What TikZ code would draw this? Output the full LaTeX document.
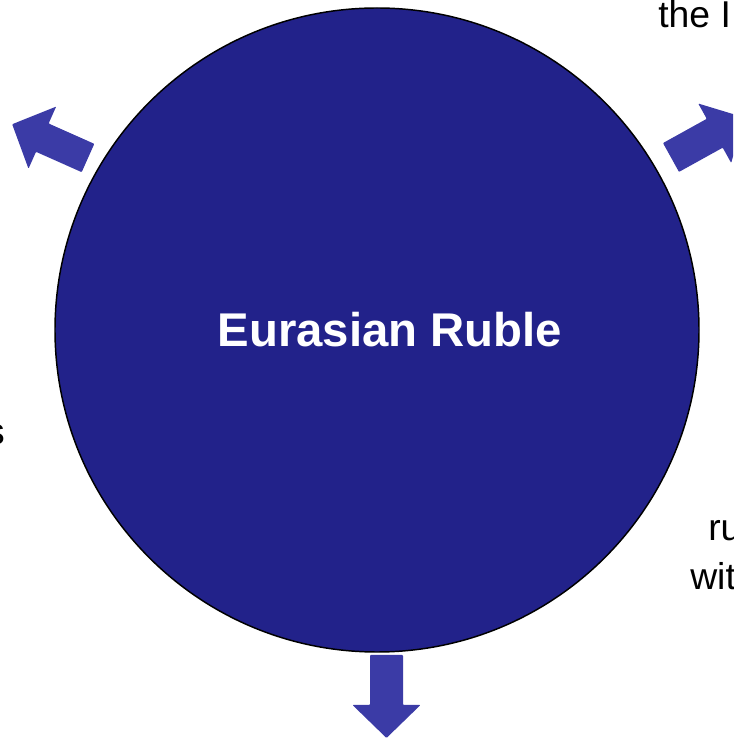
\documentclass[tikz,border=0pt]{standalone}
\usepackage{fontspec}
\setmainfont{Liberation Sans}
\definecolor{rublefill}{HTML}{22228A}
\definecolor{spokefill}{HTML}{3B3BA6}
\tikzset{
  hubdisc/.style={circle, draw=black, line width=1.1pt, fill=rublefill,
    minimum size=483pt, inner sep=0pt},
  hubtext/.style={inner sep=0pt, text=white,
    font=\fontsize{35.5}{42}\selectfont\bfseries},
  spoke/.style={fill=spokefill, rounded corners=0.6pt},
  sidetext/.style={inner sep=0pt, text=black,
    font=\fontsize{28}{34}\selectfont},
}
% block arrow: tail centre, direction, shaft half width
\newcommand\spokearrow[3]{%
  \begin{scope}[shift={#1}, rotate=#2]
    \fill[spoke] (0,-#3) -- (50,-#3) -- (50,-34) -- (83,0)
      -- (50,34) -- (50,#3) -- (0,#3) -- cycle;
  \end{scope}}
\begin{document}
\begin{tikzpicture}[x=0.75pt, y=0.75pt]
  \clip (0,0) rectangle (733,740);

  \node[hubdisc] (hub) at (377,410) {};
  \node[hubtext, anchor=base] (title) at (390,393) {Eurasian Ruble};

  \coordinate (tailleft) at (88,582);
  \coordinate (tailright) at (671,582.5);
  \coordinate (tailbottom) at (386.5,85);
  \spokearrow{(tailleft)}{156}{15.5}
  \spokearrow{(tailright)}{29}{16.5}
  \spokearrow{(tailbottom)}{270}{16.5}

  \node[sidetext, anchor=base west] (topline) at (658,712) {the I};
  \node[sidetext, anchor=base west] (rline) at (708,199) {ru};
  \node[sidetext, anchor=base west] (wline) at (690,150) {wit};
  \node[sidetext, anchor=base east] (lline) at (5,295) {s};
\end{tikzpicture}
\end{document}
